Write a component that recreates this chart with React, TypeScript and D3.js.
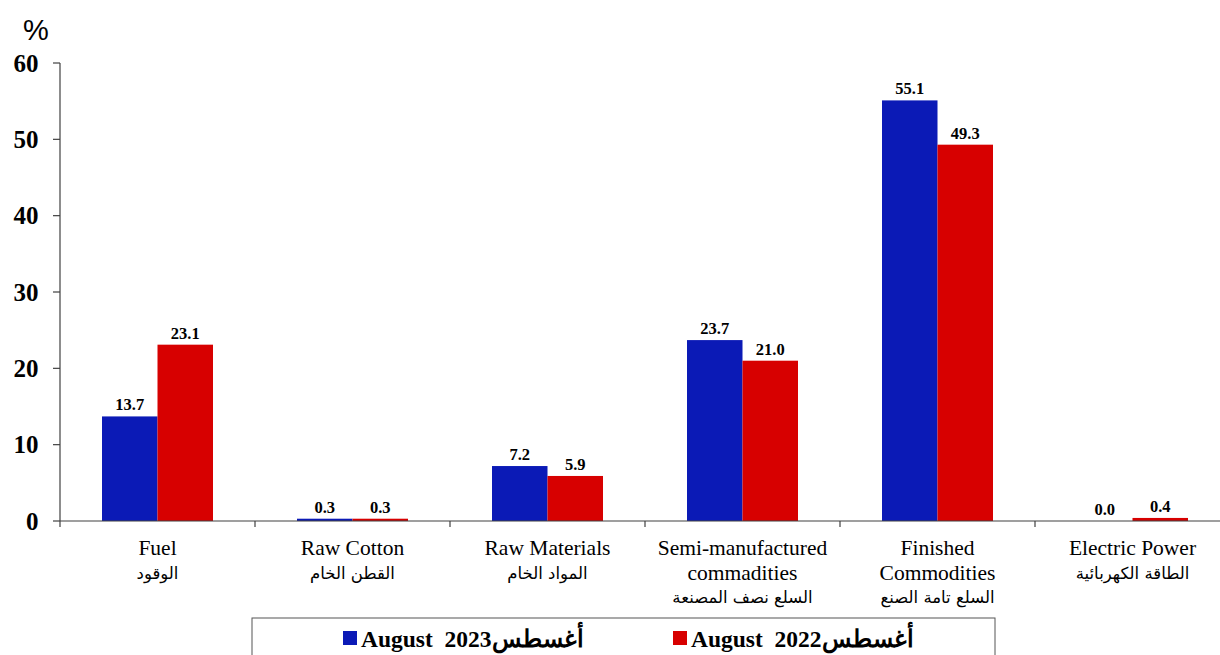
import React from 'react';
import * as d3 from 'd3';

const categoriesEn: string[][] = [
  ['Fuel'],
  ['Raw Cotton'],
  ['Raw Materials'],
  ['Semi-manufactured', 'commadities'],
  ['Finished', 'Commodities'],
  ['Electric Power'],
];
const categoriesAr: string[] = [
  'الوقود',
  'القطن الخام',
  'المواد الخام',
  'السلع نصف المصنعة',
  'السلع تامة الصنع',
  'الطاقة الكهربائية',
];
const aug2023: number[] = [13.7, 0.3, 7.2, 23.7, 55.1, 0.0];
const aug2022: number[] = [23.1, 0.3, 5.9, 21.0, 49.3, 0.4];
const yTicks: number[] = [0, 10, 20, 30, 40, 50, 60];
const seriesNames = ['August  2023أغسطس', 'August  2022أغسطس'];

const BLUE = '#0b1ab6';
const RED = '#d70000';
const AXIS = '#404040';

export default function App() {
  const W = 1220, H = 655;
  const x0 = 60, bandW = 195;
  const x = d3.scaleBand<number>().domain(d3.range(6)).range([x0, x0 + bandW * 6]).paddingInner(0).paddingOuter(0);
  const y = d3.scaleLinear().domain([0, 60]).range([521, 63]);
  const barW = 55.5;
  const series = [aug2023, aug2022];
  const colors = [BLUE, RED];
  const serif = '"Liberation Serif", "DejaVu Serif", serif';
  const arab = '"DejaVu Sans", sans-serif';

  return (
    <svg width={W} height={H} style={{ position: 'absolute', left: 0, top: 0, background: '#fff' }}>
      <rect x={0} y={0} width={W} height={H} fill="#fff" />
      <text x={36} y={40} textAnchor="middle" fontFamily='"Liberation Sans", Arial, sans-serif' fontSize={29}>%</text>
      {/* y axis */}
      <line x1={x0} x2={x0} y1={y(60)} y2={y(0)} stroke={AXIS} strokeWidth={1.2} />
      {yTicks.map((t) => (
        <g key={t}>
          <line x1={x0 - 7} x2={x0} y1={y(t)} y2={y(t)} stroke={AXIS} strokeWidth={1.2} />
          <text x={38.5} y={y(t) + 8.5} textAnchor="end" fontFamily={serif} fontWeight="bold" fontSize={25}>{t}</text>
        </g>
      ))}
      {/* bars */}
      {series.map((s, si) =>
        s.map((v, i) => {
          const cx = (x(i) as number) + x.bandwidth() / 2;
          const bx = cx - barW + si * barW;
          return (
            <g key={`${si}-${i}`}>
              <rect x={bx} y={y(v)} width={barW} height={y(0) - y(v)} fill={colors[si]} />
              <text x={bx + barW / 2} y={y(v) - 6} textAnchor="middle" fontFamily={serif} fontWeight="bold" fontSize={16.5}>{v.toFixed(1)}</text>
            </g>
          );
        })
      )}
      {/* x axis */}
      <line x1={x0} x2={x0 + bandW * 6} y1={y(0)} y2={y(0)} stroke={AXIS} strokeWidth={1.2} />
      {d3.range(7).map((i) => (
        <line key={i} x1={x0 + i * bandW} x2={x0 + i * bandW} y1={y(0)} y2={y(0) + 6} stroke={AXIS} strokeWidth={1.2} />
      ))}
      {categoriesEn.map((lines, i) => {
        const cx = (x(i) as number) + x.bandwidth() / 2;
        return (
          <g key={i}>
            {lines.map((l, li) => (
              <text key={li} x={cx} y={555 + li * 24.5} textAnchor="middle" fontFamily={serif} fontSize={21.5}>{l}</text>
            ))}
            <text x={cx} y={555 + lines.length * 24.5 - 1} textAnchor="middle" fontFamily={arab} fontSize={16.5}>{categoriesAr[i]}</text>
          </g>
        );
      })}
      {/* legend */}
      <rect x={252} y={618} width={743} height={50} fill="#fff" stroke="#555" strokeWidth={1} />
      {seriesNames.map((n, i) => {
        const lx = i === 0 ? 343 : 673;
        return (
          <g key={i}>
            <rect x={lx} y={631} width={14} height={14} fill={colors[i]} />
            <text x={lx + 18} y={647} fontFamily={serif} fontWeight="bold" fontSize={23.5} style={{ whiteSpace: 'pre' }}>{n}</text>
          </g>
        );
      })}
    </svg>
  );
}
